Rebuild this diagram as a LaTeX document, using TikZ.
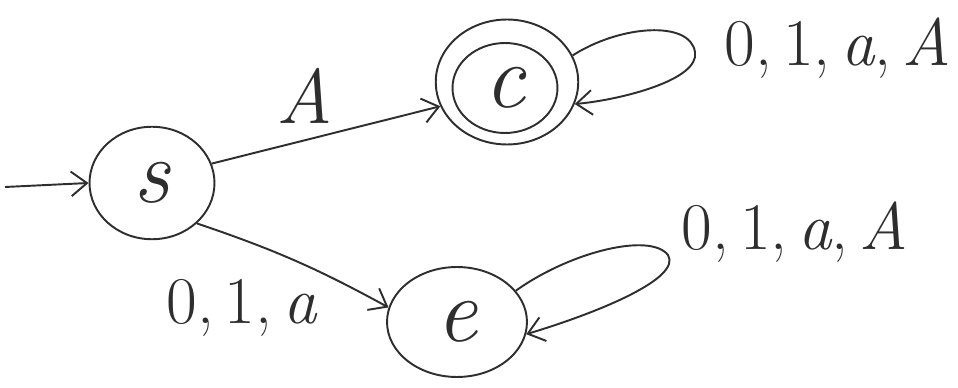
\documentclass[tikz,border=0pt]{standalone}
\usepackage{fix-cm}
\usetikzlibrary{shapes.geometric,arrows.meta}
\definecolor{ink}{HTML}{2E2E2E}
\begin{document}
\begin{tikzpicture}[x=0.02cm,y=-0.02cm,
  ln/.style={draw=ink, line width=1.1pt},
  st/.style={ellipse, draw=ink, line width=1.1pt, inner sep=0pt, text=ink, font=\fontsize{52}{52}\selectfont\itshape},
  lbl/.style={text=ink, font=\fontsize{38}{42}\selectfont, inner sep=0pt},
  arr/.style={ln, -{Straight Barb[length=9pt,width=14pt]}}]
\useasboundingbox (0,0) rectangle (958,388);
% states
\node[st, minimum width=2.5cm, minimum height=2.25cm] (s) at (152,183) {s};
\node[st, minimum width=2.85cm, minimum height=2.5cm] (c) at (507,82) {};
\node[st, minimum width=2.1cm, minimum height=1.8cm] (ci) at (505,88) {c};
\node[st, minimum width=2.8cm, minimum height=2.2cm] (e) at (457,322) {e};
% start arrow
\coordinate (st) at (5,187);
\draw[arr] (st) -- (s.west);
% transitions
\draw[arr] (s.18) -- (c.200);
\draw[arr] (s.-42) to[bend left=5] (e.168);
\draw[arr] (c.22) .. controls (620,25) and (690,20) .. (695,52) .. controls (700,80) and (620,100) .. (c.-18);
\draw[arr] (e.28) .. controls (570,252) and (650,232) .. (668,255) .. controls (682,278) and (600,312) .. (e.-10);
% labels
\node[lbl, font=\fontsize{44}{48}\selectfont] (la) at (305,96) {\itshape A};
\node[lbl] (lc) at (838,48) {0,\,1,\,\textit{a},\,\textit{A}};
\node[lbl] (lse) at (242,308) {0,\,1,\,\textit{a}};
\node[lbl] (le) at (795,232) {0,\,1,\,\textit{a},\,\textit{A}};
\end{tikzpicture}
\end{document}
